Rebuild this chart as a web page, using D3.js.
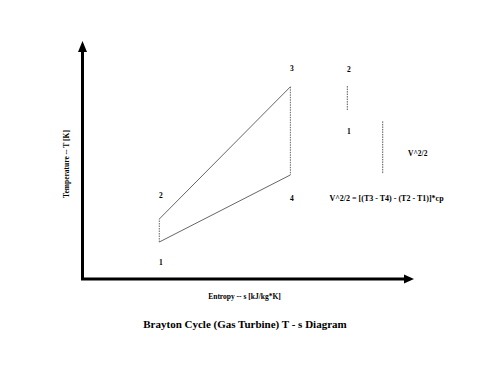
<!DOCTYPE html>
<html><head><meta charset="utf-8">
<script src="https://cdn.jsdelivr.net/npm/d3@7/dist/d3.min.js"></script>
<style>body{margin:0;background:#fff}svg{display:block}text{font-family:"Liberation Serif","Times New Roman",serif;font-weight:bold;fill:#000}</style>
</head><body>
<svg id="c" width="484" height="365"></svg>
<script>
// Cycle states (arbitrary entropy units, temperature units)
const statePoints = ["1", "2", "3", "4"];
const entropyS = [2.32, 2.32, 6.28, 6.28];
const temperatureT = [156, 253, 811, 439];
// Side annotation bars: compressor work (2-1) and kinetic energy V^2/2
const sideLabels = ["2-1", "V^2/2"];
const sideS = [8.0, 9.07];
const sideTop = [814, 665];
const sideBottom = [713, 443];
const xLabel = "Entropy -- s [kJ/kg*K]";
const yLabel = "Temperature -- T [K]";
const title = "Brayton Cycle (Gas Turbine) T - s Diagram";
const formula = "V^2/2 = [(T3 - T4) - (T2 - T1)]*cp";

const svg = d3.select("#c");
const x = d3.scaleLinear().domain([0, 10]).range([82.5, 413.5]);
const y = d3.scaleLinear().domain([0, 1000]).range([279, 42]);

// cycle polygon 1-2-3-4
const pts = statePoints.map((k, i) => ({k, s: entropyS[i], T: temperatureT[i]}));
const edges = [[0,1],[1,2],[2,3],[3,0]];
edges.forEach(([a,b]) => {
  const vertical = pts[a].s === pts[b].s;
  svg.append("line")
    .attr("x1", x(pts[a].s)).attr("y1", y(pts[a].T))
    .attr("x2", x(pts[b].s)).attr("y2", y(pts[b].T))
    .attr("stroke", "#666").attr("stroke-width", 1)
    .attr("stroke-dasharray", vertical ? "1.5,1" : null);
});

// side bars
sideS.forEach((s, i) => {
  svg.append("line")
    .attr("x1", x(s)).attr("x2", x(s))
    .attr("y1", y(sideTop[i])).attr("y2", y(sideBottom[i]))
    .attr("stroke", "#555").attr("stroke-width", 1)
    .attr("stroke-dasharray", "1.5,1");
});

// axes
svg.append("line").attr("x1", x(0)).attr("x2", x(0)).attr("y1", 279.5).attr("y2", 50)
  .attr("stroke", "#000").attr("stroke-width", 3);
svg.append("path").attr("d", `M${x(0)},41 L${x(0)-4.5},52 L${x(0)+4.5},52 Z`).attr("fill", "#000");
svg.append("line").attr("x1", x(0) - 1.5).attr("x2", 405).attr("y1", 279).attr("y2", 279)
  .attr("stroke", "#000").attr("stroke-width", 3);
svg.append("path").attr("d", `M414,279 L404,274.5 L404,283.5 Z`).attr("fill", "#000");

// state labels
const labelOff = {"1": 20, "2": -24, "3": -18, "4": 24};
pts.forEach(p => {
  svg.append("text").attr("x", x(p.s) + 1.5).attr("y", y(p.T) + labelOff[p.k])
    .attr("text-anchor", "middle").attr("dominant-baseline", "central")
    .attr("font-size", 7.5).text(p.k);
});
// side labels
svg.append("text").attr("x", x(sideS[0]) + 1.5).attr("y", y(sideTop[0]) - 17)
  .attr("text-anchor", "middle").attr("dominant-baseline", "central").attr("font-size", 7.5).text("2");
svg.append("text").attr("x", x(sideS[0]) + 1.5).attr("y", y(sideBottom[0]) + 21)
  .attr("text-anchor", "middle").attr("dominant-baseline", "central").attr("font-size", 7.5).text("1");
svg.append("text").attr("x", x(sideS[1]) + 35).attr("y", (y(sideTop[1]) + y(sideBottom[1])) / 2 + 6)
  .attr("text-anchor", "middle").attr("dominant-baseline", "central").attr("font-size", 7.5).text(sideLabels[1]);
svg.append("text").attr("x", 386.5).attr("y", 198)
  .attr("text-anchor", "middle").attr("dominant-baseline", "central").attr("font-size", 8).text(formula);

// axis labels & title
svg.append("text").attr("x", 244.5).attr("y", 296)
  .attr("text-anchor", "middle").attr("dominant-baseline", "central").attr("font-size", 7.5).text(xLabel);
svg.append("text").attr("transform", "translate(66,164) rotate(-90)")
  .attr("text-anchor", "middle").attr("dominant-baseline", "central").attr("font-size", 7.5).text(yLabel);
svg.append("text").attr("x", 245).attr("y", 324)
  .attr("text-anchor", "middle").attr("dominant-baseline", "central").attr("font-size", 11).text(title);
</script>
</body></html>
